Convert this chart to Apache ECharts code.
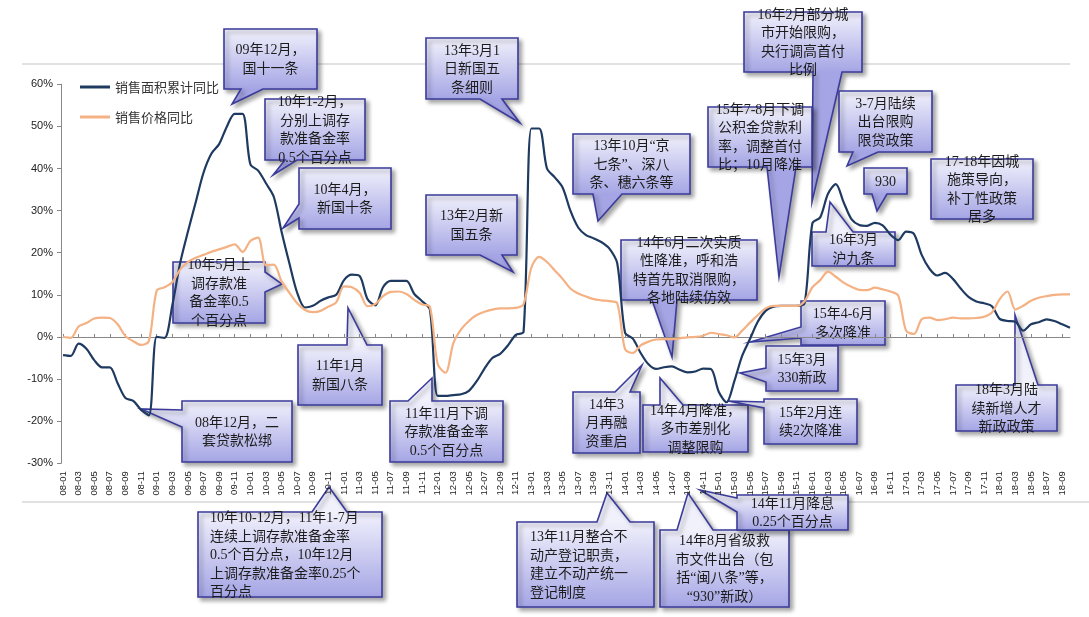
<!DOCTYPE html>
<html><head><meta charset="utf-8">
<script src="https://cdn.jsdelivr.net/npm/echarts@6.0.0/dist/echarts.min.js"></script>
<style>html,body{margin:0;padding:0;background:#fff}#c{width:1089px;height:617px}</style>
</head><body><div id="c"></div>
<script>
// ---- data ----
const categories = [
'08-01','08-02','08-03','08-04','08-05','08-06','08-07','08-08','08-09','08-10','08-11','08-12',
'09-01','09-02','09-03','09-04','09-05','09-06','09-07','09-08','09-09','09-10','09-11','09-12',
'10-01','10-02','10-03','10-04','10-05','10-06','10-07','10-08','10-09','10-10','10-11','10-12',
'11-01','11-02','11-03','11-04','11-05','11-06','11-07','11-08','11-09','11-10','11-11','11-12',
'12-01','12-02','12-03','12-04','12-05','12-06','12-07','12-08','12-09','12-10','12-11','12-12',
'13-01','13-02','13-03','13-04','13-05','13-06','13-07','13-08','13-09','13-10','13-11','13-12',
'14-01','14-02','14-03','14-04','14-05','14-06','14-07','14-08','14-09','14-10','14-11','14-12',
'15-01','15-02','15-03','15-04','15-05','15-06','15-07','15-08','15-09','15-10','15-11','15-12',
'16-01','16-02','16-03','16-04','16-05','16-06','16-07','16-08','16-09','16-10','16-11','16-12',
'17-01','17-02','17-03','17-04','17-05','17-06','17-07','17-08','17-09','17-10','17-11','17-12',
'18-01','18-02','18-03','18-04','18-05','18-06','18-07','18-08','18-09','18-10'];
const seriesNames = ['销售面积累计同比', '销售价格同比'];
const salesAreaYoY = [
-4.3,-4.5,-1.6,-2.8,-5.5,-7.2,-7.2,-11,-14.5,-15.2,-17.3,-18.6,
0,-0.2,7.5,17.5,25,32,39,43.5,45.8,50,53,53,
41,39.5,36.5,33.3,25,17.5,10.5,7,7.4,8.6,9.4,10,
13.5,14.8,14.5,9,7.5,11.8,13.3,13.3,13.3,10.2,8.5,6.5,
-14,-14,-13.8,-13.6,-12.8,-10.5,-7.5,-5,-4,-2,0.5,1.2,
49.5,49.5,40,37.9,35.5,30,26,24.2,23.4,22.5,21,17.5,
1,-0.4,-3.8,-6.5,-7.6,-7.2,-7,-7.8,-8.4,-8.2,-7.5,-7.6,
-13,-15.5,-10.5,-4.5,-0.5,3.6,6.2,7.2,7.4,7.4,7.4,8,
27,28.4,34,36.3,32,28,26.6,26.4,27.1,26.5,24.3,23,
25,24.5,19.5,16.2,14.6,15.2,13.8,11.5,9.5,8.4,8,7.3,
4.3,3.8,3.6,1.5,3,3.5,4.2,3.8,3,2.2];
const salesPriceYoY = [
0,-0.2,2.5,3.3,4.4,4.6,4.5,3,0.2,-1,-1.9,-1,
11,11.8,13,16,17.8,18.8,19.5,20.2,20.8,21.4,22,20.2,
22.8,23.6,17,17.2,13.2,10.5,8,6.4,5.9,6.2,7.2,8.2,
12,11.8,10.5,7.3,7.8,9.7,10.7,10.8,10.2,8.8,7.7,7.2,
-6.5,-8.5,-1.5,1.8,3.8,5.2,6,6.5,6.8,6.8,6.9,7.8,
16.5,19,17.8,15.8,13.8,11.5,10.3,9.6,9,8.7,8.5,8,
-2.9,-3.8,-2,-1.1,-0.6,-0.5,-0.5,-0.3,-0.1,0,0.3,1,
0.7,0.4,-0.1,1.5,3.4,5.2,6.8,7.4,7.4,7.4,7.4,8.5,
11.8,13.5,15.5,14.3,12.9,11.9,11.2,11.1,11.7,11.3,10.8,9.8,
1.5,0.7,4.2,4.6,4,4.2,4.6,4.4,4.4,4.5,4.8,5.8,
9,10.8,6.5,7.4,8.6,9.3,9.7,10,10.1,10.1];
const yMin = -30, yMax = 60, yStep = 10;

// ---- annotation texts ----
const calloutTexts = [
'09年12月，\n国十一条',
'10年1-2月，\n分别上调存\n款准备金率\n0.5个百分点',
'10年4月，\n新国十条',
'10年5月上\n调存款准\n备金率0.5\n个百分点',
'11年1月\n新国八条',
'08年12月，二\n套贷款松绑',
'11年11月下调\n存款准备金率\n0.5个百分点',
'13年3月1\n日新国五\n条细则',
'13年2月新\n国五条',
'13年10月“京\n七条”、深八\n条、穗六条等',
'14年6月二次实质\n性降准，呼和浩\n特首先取消限购，\n各地陆续仿效',
'14年3\n月再融\n资重启',
'14年4月降准，\n多市差别化\n调整限购',
'15年4-6月\n多次降准',
'15年3月\n330新政',
'15年2月连\n续2次降准',
'18年3月陆\n续新增人才\n新政政策',
'16年2月部分城\n市开始限购，\n央行调高首付\n比例',
'15年7-8月下调\n公积金贷款利\n率，调整首付\n比；10月降准',
'3-7月陆续\n出台限购\n限贷政策',
'930',
'17-18年因城\n施策导向，\n补丁性政策\n居多',
'16年3月\n沪九条',
'10年10-12月，11年1-7月\n连续上调存款准备金率\n0.5个百分点，10年12月\n上调存款准备金率0.25个\n百分点',
'13年11月整合不\n动产登记职责，\n建立不动产统一\n登记制度',
'14年8月省级救\n市文件出台（包\n括“闽八条”等，\n“930”新政）',
'14年11月降息\n0.25个百分点'
];

// ---- annotation layout (pixels) ----
const calloutLayout = [
{box:[224,29,93,60], tail:{side:'bottom',a:241,b:263,tip:[232,104]}},
{box:[265,99,100,61], tail:{side:'bottom',a:285,b:297,tip:[273,175]}},
{box:[299,168,92,61], tail:{side:'left',a:204,b:218,tip:[283,228]}},
{box:[173,262,92,61], tail:{side:'right',a:272,b:292,tip:[282,284]}},
{box:[298,345,84,60], tail:{side:'top',a:347,b:367,tip:[348,308]}},
{box:[182,401,110,61], tail:{side:'left',a:410,b:427,tip:[141,409]}},
{box:[390,401,113,61], tail:{side:'top',a:408,b:432,tip:[432,378]}},
{box:[426,38,92,61], tail:{side:'bottom',a:480,b:502,tip:[520,123]}},
{box:[426,195,91,60], tail:{side:'bottom',a:480,b:502,tip:[513,272]}},
{box:[573,134,117,60], tail:{side:'bottom',a:593,b:622,tip:[598,221]}},
{box:[621,240,136,60], tail:{side:'bottom',a:652,b:677,tip:[672,357]}},
{box:[573,392,67,61], tail:{side:'top',a:615,b:630,tip:[642,365]}},
{box:[643,405,105,47], tail:{side:'top',a:660,b:683,tip:[660,378]}},
{box:[801,301,84,44], tail:{side:'left',a:327,b:338,tip:[750,342]}},
{box:[766,346,72,45], tail:{side:'left',a:368,b:382,tip:[740,373]}},
{box:[764,399,93,45], tail:{side:'left',a:402,b:408,tip:[728,401]}},
{box:[956,385,101,46], tail:{side:'top',a:1015,b:1038,tip:[1015,315]}},
{box:[744,12,118,60], tail:{side:'bottom',a:813,b:842,tip:[812,202]}},
{box:[708,107,104,60], tail:{side:'bottom',a:767,b:796,tip:[779,277]}},
{box:[839,91,93,61], tail:{side:'bottom',a:853,b:878,tip:[847,166]}},
{box:[864,168,43,26], tail:{side:'bottom',a:872,b:887,tip:[877,211]}},
{box:[931,159,102,60], tail:null},
{box:[812,232,83,34], tail:{side:'top',a:826,b:853,tip:[830,202]}},
{box:[198,512,184,85], tail:{side:'top',a:312,b:347,tip:[329,487]}, left:210},
{box:[517,522,137,85], tail:{side:'top',a:597,b:630,tip:[607,493]}, left:530},
{box:[660,530,129,77], tail:{side:'top',a:677,b:713,tip:[688,493]}},
{box:[737,495,111,35], tail:{side:'left',a:498,b:512,tip:[700,490]}}
];

function calloutPoints(l) {
  const [x, y, w, h] = l.box, t = l.tail;
  const p = [[x, y]];
  if (t && t.side === 'top') p.push([t.a, y], t.tip, [t.b, y]);
  p.push([x + w, y]);
  if (t && t.side === 'right') p.push([x + w, t.a], t.tip, [x + w, t.b]);
  p.push([x + w, y + h]);
  if (t && t.side === 'bottom') p.push([t.b, y + h], t.tip, [t.a, y + h]);
  p.push([x, y + h]);
  if (t && t.side === 'left') p.push([x, t.b], t.tip, [x, t.a]);
  return p;
}

const FONT_CALLOUT = '14px "Liberation Serif", "Noto Sans CJK SC", serif';
const graphics = [
  {type:'line', shape:{x1:22,y1:64,x2:1070,y2:64}, style:{stroke:'#c3c3c3', lineWidth:1}, silent:true},
  {type:'line', shape:{x1:22,y1:502,x2:1089,y2:502}, style:{stroke:'#c3c3c3', lineWidth:1}, silent:true}
];
calloutLayout.forEach(function (l, i) {
  const [x, y, w, h] = l.box;
  graphics.push({
    type:'polygon',
    shape:{points: calloutPoints(l)},
    style:{
      fill: new echarts.graphic.LinearGradient(0, y, 0, y + h, [
        {offset:0, color:'#f1f1fc'}, {offset:1, color:'#a5a5e5'}], true),
      stroke:'#3b3b9c', lineWidth:1.6,
      shadowColor:'rgba(0,0,0,0.35)', shadowBlur:4, shadowOffsetX:3, shadowOffsetY:3
    },
    silent:true
  });
  const leftAligned = l.left != null;
  graphics.push({
    type:'text',
    x: leftAligned ? l.left : x + w / 2,
    y: y + h / 2 + 1,
    style:{
      text: calloutTexts[i], font: FONT_CALLOUT, fill:'#1c1c1c',
      align: leftAligned ? 'left' : 'center', verticalAlign:'middle', lineHeight:18.5
    },
    silent:true
  });
});

const chart = echarts.init(document.getElementById('c'), null, {renderer:'canvas'});
chart.setOption({
  animation:false,
  backgroundColor:'#ffffff',
  grid:{left:63, right:19, top:84.3, bottom:153.7, containLabel:false},
  legend:{
    orient:'vertical', left:75, top:75, itemWidth:30, itemHeight:3, itemGap:16,
    icon:'rect',
    textStyle:{fontSize:13, lineHeight:14, color:'#333', fontFamily:'"Noto Sans CJK SC", sans-serif'},
    data: seriesNames
  },
  xAxis:[{
    type:'category', data:categories, boundaryGap:false, position:'bottom',
    axisLine:{show:false, onZero:false}, axisTick:{show:false},
    axisLabel:{interval:1, rotate:90, fontSize:9.5, color:'#222', margin:8,
      fontFamily:'"Liberation Sans", Arial, sans-serif'}
  },{
    type:'category', data:categories, boundaryGap:false, position:'bottom',
    axisLine:{show:true, onZero:true, lineStyle:{color:'#888', width:1}},
    axisTick:{show:true, inside:true, interval:1, length:3, lineStyle:{color:'#888'}},
    axisLabel:{show:false}
  }],
  yAxis:{
    type:'value', min:yMin, max:yMax, interval:yStep, offset:2,
    axisLine:{show:true, lineStyle:{color:'#888', width:1}},
    axisTick:{show:true, length:4, lineStyle:{color:'#888'}},
    splitLine:{show:false},
    axisLabel:{formatter:'{value}%', fontSize:11, color:'#222', margin:8,
      fontFamily:'"Liberation Sans", Arial, sans-serif'}
  },
  series:[{
    name:seriesNames[0], type:'line', data:salesAreaYoY, xAxisIndex:0,
    symbol:'none', smooth:0.3, lineStyle:{color:'#1f3a60', width:2.2}, itemStyle:{color:'#1f3a60'}
  },{
    name:seriesNames[1], type:'line', data:salesPriceYoY, xAxisIndex:0,
    symbol:'none', smooth:0.3, lineStyle:{color:'#f4b183', width:2.2}, itemStyle:{color:'#f4b183'}
  }],
  graphic: graphics
});
</script></body></html>
